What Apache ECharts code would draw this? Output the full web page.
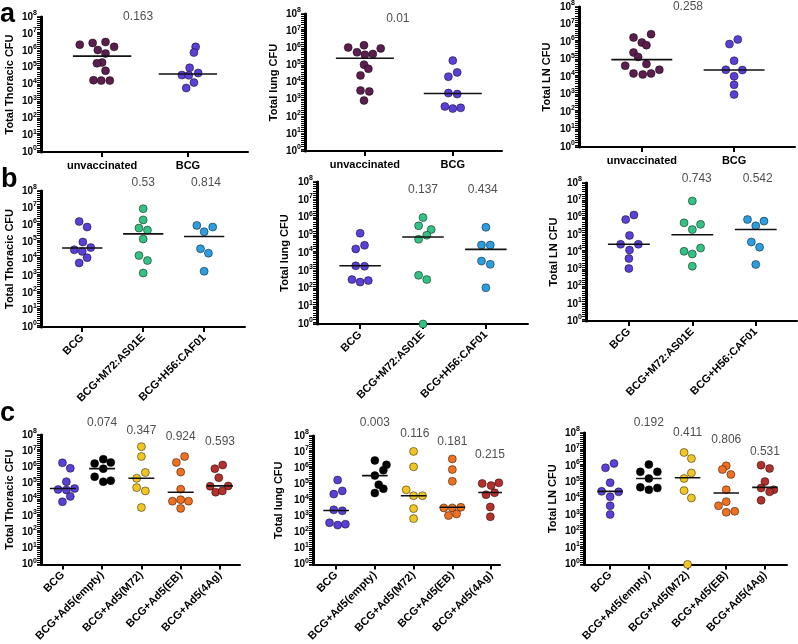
<!DOCTYPE html>
<html><head><meta charset="utf-8">
<script src="https://cdn.jsdelivr.net/npm/echarts@6/dist/echarts.min.js"></script>
<style>html,body{margin:0;padding:0;background:#fff}#c{width:798px;height:644px}</style>
</head><body><div id="c"></div>
<script>
// ---------- categories / labels ----------
const catsA = ['unvaccinated', 'BCG'];
const catsB = ['BCG', 'BCG+M72:AS01E', 'BCG+H56:CAF01'];
const catsC = ['BCG', 'BCG+Ad5(empty)', 'BCG+Ad5(M72)', 'BCG+Ad5(EB)', 'BCG+Ad5(4Ag)'];
const yTitles = ['Total Thoracic CFU', 'Total lung CFU', 'Total LN CFU'];
const yTickExponents = [0, 1, 2, 3, 4, 5, 6, 7, 8];
const panelLetters = ['a', 'b', 'c'];

// ---------- row a (CFU per animal, per group) ----------
const thoracicA = [
  [2.3e6, 2.9e6, 3.3e6, 1.7e6, 1.1e6, 6.8e5, 2.0e5, 1.8e5, 6.5e4, 1.8e4, 1.7e4, 1.7e4],
  [1.7e6, 7.8e5, 9.8e4, 3.6e4, 3.5e4, 4.8e4, 1.3e4, 6.2e3]
];
const thoracicAMedian = [4.8e5, 4.2e4];
const thoracicAP = ['0.163'];
const lungA = [
  [1.1e6, 1.5e6, 9.8e5, 5.8e5, 4.2e5, 4.6e5, 1.1e5, 6.3e4, 2.6e4, 3.4e3, 3.0e3, 8.9e2],
  [1.9e5, 3.9e4, 2.2e4, 2.4e3, 2.1e3, 4.0e2, 3.0e2, 3.3e2]
];
const lungAMedian = [2.6e5, 2.3e3];
const lungAP = ['0.01'];
const lnA = [
  [1.8e6, 2.8e6, 9.3e5, 6.6e5, 2.5e5, 1.4e5, 5.5e4, 4.4e4, 2.6e4, 1.6e4, 1.4e4, 1.6e4],
  [1.4e6, 7.6e5, 8.5e4, 2.6e4, 2.5e4, 1.1e4, 3.6e3, 1.0e3]
];
const lnAMedian = [9.8e4, 2.5e4];
const lnAP = ['0.258'];

// ---------- row b ----------
const thoracicB = [
  [1.6e6, 7.6e5, 1.0e5, 3.5e4, 2.8e4, 4.7e4, 1.2e4, 5.9e3],
  [9.1e6, 2.0e6, 6.6e5, 5.0e5, 1.5e5, 1.6e4, 8.1e3, 1.5e3],
  [9.5e5, 7.6e5, 4.0e5, 4.0e4, 2.2e4, 1.9e3]
];
const thoracicBMedian = [4.4e4, 3.0e5, 2.1e5];
const thoracicBP = ['0.53', '0.814'];
const lungB = [
  [1.3e5, 1.7e4, 2.7e4, 1.9e3, 1.8e3, 3.2e2, 2.3e2, 2.8e2],
  [1.0e6, 3.4e5, 2.1e5, 1.0e5, 5.9e4, 5.5e2, 3.2e2, 1],
  [2.8e5, 2.8e4, 2.8e4, 3.5e3, 2.3e3, 1.1e2]
];
const lungBMedian = [1.9e3, 7.9e4, 1.6e4];
const lungBP = ['0.137', '0.434'];
const lnB = [
  [7.6e5, 1.4e6, 9.1e4, 2.8e4, 2.8e4, 1.3e4, 4.2e3, 1.1e3],
  [9.1e6, 4.9e5, 4.0e5, 2.0e5, 1.1e4, 1.7e4, 7.6e3, 1.5e3],
  [7.6e5, 6.2e5, 3.3e5, 3.8e4, 1.9e4, 1.9e3]
];
const lnBMedian = [2.8e4, 1.0e5, 2.0e5];
const lnBP = ['0.743', '0.542'];

// ---------- row c ----------
const thoracicC = [
  [1.9e6, 8.7e5, 1.3e5, 4.3e4, 4.0e4, 4.9e4, 1.6e4, 7.4e3],
  [1.7e6, 3.2e6, 2.0e6, 8.3e5, 2.6e5, 1.3e5, 1.5e5],
  [1.9e7, 4.7e6, 4.8e5, 2.1e5, 5.6e4, 3.5e4, 3.3e3],
  [4.7e6, 2.0e6, 5.1e5, 4.5e4, 8.1e3, 1.0e4, 8.1e3, 2.9e3],
  [8.3e5, 1.4e6, 2.3e5, 6.8e4, 7.1e4, 2.9e4, 3.5e4]
];
const thoracicCMedian = [4.9e4, 8.3e5, 2.1e5, 2.9e4, 7.1e4];
const thoracicCP = ['0.074', '0.347', '0.924', '0.593'];
const lungC = [
  [1.8e5, 2.4e4, 3.8e4, 2.5e3, 2.2e3, 3.9e2, 2.8e2, 3.2e2],
  [3.0e6, 1.6e6, 7.4e5, 3.4e5, 9.3e4, 5.2e4, 2.8e4],
  [1.1e7, 1.2e6, 4.4e4, 1.9e4, 1.9e4, 3.0e3, 7.1e2],
  [3.7e6, 8.1e5, 1.5e5, 3.3e3, 3.3e3, 3.6e3, 1.1e3, 1.4e3],
  [1.1e5, 8.1e4, 1.2e5, 2.2e4, 2.9e4, 3.8e3, 9.3e2]
];
const lungCMedian = [2.3e3, 3.4e5, 1.9e4, 3.6e3, 3.0e4];
const lungCP = ['0.003', '0.116', '0.181', '0.215'];
const lnC = [
  [7.6e5, 1.4e6, 9.5e4, 2.8e4, 2.6e4, 1.3e4, 3.7e3, 1.1e3],
  [1.2e6, 4.3e5, 4.3e5, 1.7e5, 4.9e4, 3.5e4, 4.5e4],
  [6.5e6, 2.8e6, 3.7e5, 1.7e5, 3.1e4, 1.1e4, 1],
  [1.0e6, 6.0e5, 3.0e5, 3.5e4, 6.6e3, 3.7e3, 1.5e3, 1.7e3],
  [1.1e6, 6.9e5, 1.1e5, 4.5e4, 3.5e4, 2.6e4, 7.9e3]
];
const lnCMedian = [2.8e4, 1.7e5, 1.9e5, 2.2e4, 4.9e4];
const lnCP = ['0.192', '0.411', '0.806', '0.531'];

// ---------- horizontal scatter of dots within each group (category units) ----------
const jitterThoracicA = [[-0.26,-0.11,0.04,0.14,-0.05,0.04,0,-0.06,0.04,-0.10,-0.01,0.09],[0.09,0.07,0.02,-0.07,0.01,0.12,0.07,-0.02]];
const jitterLungA = [[-0.19,-0.01,0.18,-0.09,0,0.09,-0.01,0.04,-0.05,-0.05,0.05,-0.01],[0,0.05,-0.05,-0.05,0.05,-0.09,0,0.09]];
const jitterLnA = [[-0.09,0.10,0,0.05,-0.09,-0.04,0.05,-0.18,0.19,-0.09,0.01,0.10],[0.04,-0.05,0,-0.09,0.09,0,0,0]];
const jitterThoracicB = [[-0.05,0.08,0.01,-0.13,0,0.14,0.08,-0.05],[0,0,-0.07,0.07,0,-0.07,0.07,0],[-0.12,0.14,0,-0.06,0.07,0]];
const jitterLungB = [[0,-0.07,0.07,-0.07,0.07,-0.13,0,0.13],[0,-0.07,0.13,0.06,-0.07,-0.07,0.06,0],[0,-0.07,0.07,-0.07,0.07,0]];
const jitterLnB = [[-0.05,0.08,0.01,-0.13,0.15,0.01,0,0],[0,-0.13,0.13,0,-0.13,0.13,0,0],[-0.13,0.13,0,-0.07,0.06,0]];
const jitterThoracicC = [[-0.01,0.19,0.09,-0.12,0.09,0.30,0.19,-0.01],[-0.19,0.03,0.22,0.03,-0.19,0.03,0.22],[0,0,0.1,-0.12,-0.12,0.1,0],[0.10,-0.11,0,0,-0.21,0,0.2,0],[-0.13,0.07,-0.03,-0.25,0.21,-0.11,0.06]];
const jitterLungC = [[0.04,-0.06,0.16,-0.06,0.16,-0.17,0.04,0.24],[0,0.30,0.22,0,0.10,0.22,0],[0,0,-0.19,0,0.23,0,0],[0,0,0,-0.22,0,0.22,-0.1,0.11],[-0.23,0,0.2,-0.13,0.09,-0.02,-0.02]];
const jitterLnC = [[-0.12,0.1,0,-0.22,0.22,0,0,0],[0,-0.22,0.22,0,-0.22,0,0.22],[-0.09,0.1,0.1,-0.09,-0.09,0.1,0],[0,-0.1,0.12,0,0,-0.2,0,0.22],[-0.1,0.12,0,-0.1,0.23,0.12,-0.1]];

// ---------- styles ----------
const colorsA = ['#5c1e4f', '#5b3fd6'];
const colorsB = ['#5b3fd6', '#34c184', '#2b9de0'];
const colorsC = ['#5b3fd6', '#000000', '#f2c523', '#f07021', '#b4302c'];
const FONT = '"Liberation Sans", Arial, Helvetica, sans-serif';

// ---------- layout (pixel frames and label placement; p-value label y in log10 units) ----------
const layout = [
  {left: 42,  top: 17,  width: 206, height: 135, xMin: -0.70, xMax: 1.70, gap: 27, half: 0.34, pPos: [[0.42, 8.0]]},
  {left: 306, top: 14,  width: 196, height: 137, xMin: -0.67, xMax: 1.56, gap: 27, half: 0.33, pPos: [[0.375, 7.71]]},
  {left: 580, top: 6,   width: 215, height: 141, xMin: -0.67, xMax: 1.66, gap: 28, half: 0.33, pPos: [[0.5, 8.0]]},
  {left: 42,  top: 191, width: 203, height: 136, xMin: -0.66, xMax: 2.67, gap: 27, half: 0.33, pPos: [[1, 8.47], [2.03, 8.47]]},
  {left: 318, top: 182, width: 210, height: 142, xMin: -0.67, xMax: 2.67, gap: 28, half: 0.33, pPos: [[1, 7.55], [1.95, 7.55]]},
  {left: 587, top: 183, width: 210, height: 138, xMin: -0.66, xMax: 2.65, gap: 28, half: 0.33, pPos: [[1.07, 8.23], [2.03, 8.23]]},
  {left: 42,  top: 435, width: 198, height: 137, xMin: -0.53, xMax: 4.51, gap: 27, half: 0.33, pPos: [[1, 8.76], [2, 8.29], [3, 7.88], [4, 7.6]]},
  {left: 314, top: 436, width: 186, height: 134, xMin: -0.57, xMax: 4.23, gap: 30, half: 0.33, pPos: [[1, 8.84], [2.03, 8.12], [3, 7.64], [3.97, 6.81]]},
  {left: 585, top: 433, width: 202, height: 136, xMin: -0.65, xMax: 4.57, gap: 27, half: 0.33, pPos: [[1, 8.65], [2, 8.0], [3, 7.59], [4, 6.88]]}
];

const panels = [
  {cats: catsA, colors: colorsA, vals: thoracicA, jit: jitterThoracicA, med: thoracicAMedian, p: thoracicAP, title: yTitles[0]},
  {cats: catsA, colors: colorsA, vals: lungA, jit: jitterLungA, med: lungAMedian, p: lungAP, title: yTitles[1]},
  {cats: catsA, colors: colorsA, vals: lnA, jit: jitterLnA, med: lnAMedian, p: lnAP, title: yTitles[2]},
  {cats: catsB, colors: colorsB, vals: thoracicB, jit: jitterThoracicB, med: thoracicBMedian, p: thoracicBP, title: yTitles[0]},
  {cats: catsB, colors: colorsB, vals: lungB, jit: jitterLungB, med: lungBMedian, p: lungBP, title: yTitles[1]},
  {cats: catsB, colors: colorsB, vals: lnB, jit: jitterLnB, med: lnBMedian, p: lnBP, title: yTitles[2]},
  {cats: catsC, colors: colorsC, vals: thoracicC, jit: jitterThoracicC, med: thoracicCMedian, p: thoracicCP, title: yTitles[0]},
  {cats: catsC, colors: colorsC, vals: lungC, jit: jitterLungC, med: lungCMedian, p: lungCP, title: yTitles[1]},
  {cats: catsC, colors: colorsC, vals: lnC, jit: jitterLnC, med: lnCMedian, p: lnCP, title: yTitles[2]}
];

const grid = [], xAxis = [], yAxis = [], series = [];
panels.forEach((pn, k) => {
  const L = layout[k];
  const row = Math.floor(k / 3);
  const idx = pn.cats.map((c, i) => i);
  grid.push({left: L.left, top: L.top, width: L.width, height: L.height, containLabel: false});
  xAxis.push({
    type: 'value', gridIndex: k, min: L.xMin, max: L.xMax,
    splitLine: {show: false},
    axisLine: {show: true, onZero: false, lineStyle: {color: '#000', width: 2}},
    axisTick: {show: true, customValues: idx, length: 5, lineStyle: {color: '#000', width: 2}},
    axisLabel: {
      customValues: idx, formatter: v => pn.cats[Math.round(v)] || '',
      rotate: row === 0 ? 0 : 45, margin: row === 0 ? 8 : 9,
      color: '#000', fontWeight: 'bold', fontSize: 11, fontFamily: FONT
    }
  });
  // companion axis in log10 units: carries the p-value labels and draws the dense small ticks
  const eIdx = yAxis.length;
  yAxis.push({
    type: 'value', gridIndex: k, min: 0, max: 8, interval: 0.125, position: 'left', offset: 1,
    splitLine: {show: false},
    axisLine: {show: true, onZero: false, lineStyle: {color: '#000', width: 3}},
    axisTick: {show: true, interval: 0, length: 4, lineStyle: {color: '#000', width: 1}},
    axisLabel: {show: false}
  });
  const yIdx = yAxis.length;
  yAxis.push({
    type: 'log', logBase: 10, gridIndex: k, min: 1, max: 1e8, splitNumber: 8, position: 'left',
    name: pn.title, nameLocation: 'middle', nameGap: L.gap,
    nameTextStyle: {color: '#000', fontWeight: 'bold', fontSize: 11, fontFamily: FONT},
    splitLine: {show: false},
    axisLine: {show: true, onZero: false, lineStyle: {color: '#000', width: 2}},
    axisTick: {show: true, length: 5, lineStyle: {color: '#000', width: 1.5}},
    axisLabel: {
      margin: 5, color: '#000',
      formatter: v => {
        const e = Math.round(Math.log10(v));
        return yTickExponents.includes(e) ? '{b|10}{s|' + e + '}' : '';
      },
      rich: {
        b: {fontSize: 10, fontWeight: 'bold', fontFamily: FONT, color: '#000'},
        s: {fontSize: 7, fontWeight: 'bold', fontFamily: FONT, color: '#000', padding: [0, 0, 7, 0]}
      }
    }
  });
  pn.vals.forEach((g, gi) => {
    series.push({
      type: 'scatter', xAxisIndex: k, yAxisIndex: yIdx, clip: false,
      symbolSize: 8, z: 3,
      itemStyle: {color: pn.colors[gi], borderColor: 'rgba(0,0,0,0.65)', borderWidth: 0.7, opacity: 1},
      data: g.map((v, i) => [gi + pn.jit[gi][i], v])
    });
    series.push({
      type: 'line', xAxisIndex: k, yAxisIndex: yIdx, symbol: 'none', z: 4,
      lineStyle: {color: '#111', width: 1.6},
      data: [[gi - L.half, pn.med[gi]], [gi + L.half, pn.med[gi]]]
    });
  });
  series.push({
    type: 'scatter', xAxisIndex: k, yAxisIndex: eIdx, clip: false, symbolSize: 1, z: 6,
    itemStyle: {color: 'rgba(0,0,0,0)'},
    label: {show: true, position: 'inside', color: '#222', fontSize: 12, fontFamily: FONT,
            formatter: prm => prm.data.name},
    data: L.pPos.map((pos, i) => ({name: pn.p[i], value: pos}))
  });
});

const chart = echarts.init(document.getElementById('c'), null, {renderer: 'canvas'});
chart.setOption({
  animation: false,
  backgroundColor: '#fff',
  grid, xAxis, yAxis, series,
  graphic: [
    {type: 'text', left: 0, top: 1, style: {text: panelLetters[0], font: 'bold 27px ' + FONT, fill: '#000'}},
    {type: 'text', left: 1, top: 166, style: {text: panelLetters[1], font: 'bold 27px ' + FONT, fill: '#000'}},
    {type: 'text', left: 0, top: 400, style: {text: panelLetters[2], font: 'bold 27px ' + FONT, fill: '#000'}}
  ]
});
</script></body></html>
